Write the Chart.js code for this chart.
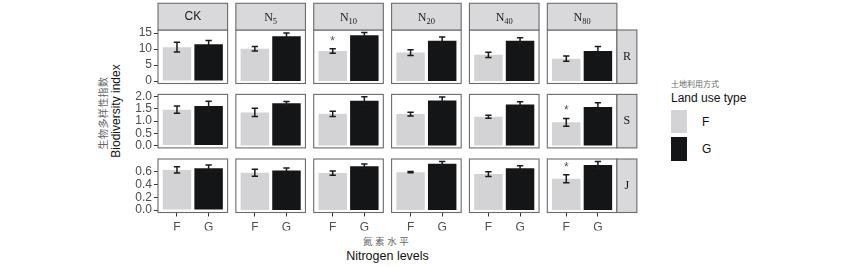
<!DOCTYPE html>
<html>
<head>
<meta charset="utf-8">
<script src="https://cdn.jsdelivr.net/npm/chart.js@4/dist/chart.umd.min.js"></script>
<style>
    body { margin: 0; background: #fff; }
    #wrap { position: relative; width: 850px; height: 267px; overflow: hidden; }
    #wrap canvas { position: absolute; left: 0; top: 0; }
    .txt { position: absolute; white-space: nowrap; line-height: 1; }
    .cn { font-family: "Noto Sans CJK SC", sans-serif; color: #666; }
    .en { font-family: "Liberation Sans", Arial, sans-serif; color: #111; }
    .key { position: absolute; width: 16px; }
</style>
</head>
<body>
<div id="wrap">
    <div class="txt cn" style="left:363px; top:237px; font-size:9.5px; letter-spacing:2.6px;">氮素水平</div>
    <div class="txt en" style="left:387.5px; top:250px; font-size:12.5px; transform:translateX(-50%);">Nitrogen levels</div>
    <div class="txt cn" style="left:103px; top:113px; font-size:10px; letter-spacing:0.4px; transform:translate(-50%,-50%) rotate(-90deg);">生物多样性指数</div>
    <div class="txt en" style="left:116px; top:111px; font-size:12px; transform:translate(-50%,-50%) rotate(-90deg);">Biodiversity index</div>

    <div class="txt cn" style="left:671px; top:80px; font-size:8px;">土地利用方式</div>
    <div class="txt en" style="left:671px; top:92px; font-size:12px;">Land use type</div>
    <div class="key" id="keyF" style="left:671px; top:110px; height:23px;"></div>
    <div class="key" id="keyG" style="left:671px; top:137px; height:24px;"></div>
    <div class="txt en" style="left:702px; top:116px; font-size:12px;">F</div>
    <div class="txt en" style="left:702px; top:143px; font-size:12px;">G</div>
</div>
<script>
// categories
const levels = ['CK', 'N5', 'N10', 'N20', 'N40', 'N80'];
const indices = ['R', 'S', 'J'];
const landUse = ['F', 'G'];

// R (richness)
const richnessF = [10.6, 10.1, 9.4, 8.9, 8.2, 7.0];
const richnessFErr = [1.5, 0.7, 0.7, 0.9, 0.8, 0.8];
const richnessG = [11.5, 14.0, 14.3, 12.6, 12.6, 9.4];
const richnessGErr = [1.2, 1.0, 0.9, 1.2, 0.9, 1.4];
const richnessStars = ['', '', '*', '', '', ''];
const richnessTicks = [0, 5, 10, 15];

// S (shannon)
const shannonF = [1.47, 1.36, 1.30, 1.29, 1.18, 0.95];
const shannonFErr = [0.15, 0.17, 0.11, 0.08, 0.06, 0.16];
const shannonG = [1.62, 1.74, 1.84, 1.85, 1.68, 1.58];
const shannonGErr = [0.20, 0.07, 0.16, 0.14, 0.12, 0.18];
const shannonStars = ['', '', '', '', '', '*'];
const shannonTicks = [0, 0.5, 1.0, 1.5, 2.0];

// J (evenness)
const evennessF = [0.630, 0.585, 0.580, 0.595, 0.565, 0.490];
const evennessFErr = [0.050, 0.055, 0.033, 0.010, 0.038, 0.063];
const evennessG = [0.656, 0.620, 0.687, 0.727, 0.656, 0.707];
const evennessGErr = [0.050, 0.040, 0.035, 0.036, 0.040, 0.056];
const evennessStars = ['', '', '', '', '', '*'];
const evennessTicks = [0, 0.2, 0.4, 0.6];

const colorF = '#d3d3d5';
const colorG = '#141517';
const stripFill = '#d9d9dc';
const borderColor = '#6b6b6b';
const tickColor = '#4d4d4d';

document.getElementById('keyF').style.background = colorF;
document.getElementById('keyG').style.background = colorG;

const rows = [
    { f: richnessF, fe: richnessFErr, g: richnessG, ge: richnessGErr, stars: richnessStars, ticks: richnessTicks, dec: 0 },
    { f: shannonF, fe: shannonFErr, g: shannonG, ge: shannonGErr, stars: shannonStars, ticks: shannonTicks, dec: 1 },
    { f: evennessF, fe: evennessFErr, g: evennessG, ge: evennessGErr, stars: evennessStars, ticks: evennessTicks, dec: 1 }
];

// panel geometry (px)
const W = 850, H = 267;
const colX0 = 158, colStep = 77.86, colW = 69.6;
const rowY = [30, 94.4, 159];
const rowH = 53.5;
const stripTop = 3.3;
const sideStripW = 20;
const yAxisW = 36, xAxisH = 18;

// error bars, stars, panel border, strips
const facetPlugin = {
    id: 'facet',
    afterDatasetsDraw(chart) {
        const ctx = chart.ctx;
        const xs = chart.scales.x, ys = chart.scales.y;
        ctx.save();
        ctx.strokeStyle = '#1a1a1a';
        ctx.lineWidth = 1.5;
        chart.data.datasets.forEach(ds => {
            ds.data.forEach(p => {
                const x = xs.getPixelForValue(p.x);
                const cap = xs.getPixelForValue(p.x + 0.1) - x;
                const top = ys.getPixelForValue(p.y + p.err);
                const bot = ys.getPixelForValue(p.y - p.err);
                ctx.beginPath();
                ctx.moveTo(x, top); ctx.lineTo(x, bot);
                ctx.moveTo(x - cap, top); ctx.lineTo(x + cap, top);
                ctx.moveTo(x - cap, bot); ctx.lineTo(x + cap, bot);
                ctx.stroke();
                if (p.star) {
                    ctx.fillStyle = '#555';
                    ctx.font = '12px "Liberation Sans", Arial, sans-serif';
                    ctx.textAlign = 'center';
                    ctx.textBaseline = 'alphabetic';
                    ctx.fillText(p.star, x, top - 4);
                }
            });
        });
        ctx.restore();
    },
    afterDraw(chart) {
        const ctx = chart.ctx;
        const a = chart.chartArea;
        const meta = chart.options.plugins.facet;
        ctx.save();
        ctx.lineWidth = 1.1;
        ctx.strokeStyle = borderColor;
        ctx.strokeRect(a.left, a.top, a.right - a.left, a.bottom - a.top);
        ctx.fillStyle = '#1a1a1a';
        ctx.textAlign = 'center';
        ctx.textBaseline = 'middle';
        if (meta.top) {
            const h = a.top - stripTop;
            ctx.fillStyle = stripFill;
            ctx.fillRect(a.left, stripTop, a.right - a.left, h);
            ctx.strokeRect(a.left, stripTop, a.right - a.left, h);
            ctx.fillStyle = '#1a1a1a';
            const cx = (a.left + a.right) / 2, cy = stripTop + h / 2;
            const lab = meta.top;
            if (lab === 'CK') {
                ctx.font = '12px "Liberation Sans", Arial, sans-serif';
                ctx.fillText(lab, cx, cy + 0.5);
            } else {
                const sub = lab.slice(1);
                ctx.font = '12px "Liberation Serif", serif';
                const wN = ctx.measureText('N').width;
                ctx.font = '8.5px "Liberation Serif", serif';
                const wS = ctx.measureText(sub).width;
                const x0 = cx - (wN + wS) / 2;
                ctx.textAlign = 'left';
                ctx.textBaseline = 'alphabetic';
                ctx.font = '12px "Liberation Serif", serif';
                ctx.fillText('N', x0, cy + 4.5);
                ctx.font = '8.5px "Liberation Serif", serif';
                ctx.fillText(sub, x0 + wN, cy + 7);
                ctx.textAlign = 'center';
                ctx.textBaseline = 'middle';
            }
        }
        if (meta.side) {
            ctx.fillStyle = stripFill;
            ctx.fillRect(a.right, a.top, sideStripW, a.bottom - a.top);
            ctx.strokeRect(a.right, a.top, sideStripW, a.bottom - a.top);
            ctx.fillStyle = '#1a1a1a';
            ctx.font = '12px "Liberation Serif", serif';
            ctx.fillText(meta.side, a.right + sideStripW / 2, (a.top + a.bottom) / 2);
        }
        ctx.restore();
    }
};

const wrap = document.getElementById('wrap');

rows.forEach((row, r) => {
    const maxTop = Math.max(...row.f.map((v, i) => v + row.fe[i]), ...row.g.map((v, i) => v + row.ge[i]));
    const yMin = -0.05 * maxTop;
    const yMax = maxTop * 1.05;
    levels.forEach((lvl, c) => {
        const canvas = document.createElement('canvas');
        canvas.width = W; canvas.height = H;
        wrap.appendChild(canvas);
        const px = colX0 + c * colStep;
        const py = rowY[r];
        const showY = c === 0;
        const showX = r === rows.length - 1;
        const barOpts = { grouped: false, barPercentage: 0.9, categoryPercentage: 1, borderWidth: 0 };
        new Chart(canvas, {
            type: 'bar',
            data: {
                datasets: [
                    Object.assign({ label: landUse[0], data: [{ x: 1, y: row.f[c], err: row.fe[c], star: row.stars[c] }], backgroundColor: colorF }, barOpts),
                    Object.assign({ label: landUse[1], data: [{ x: 2, y: row.g[c], err: row.ge[c], star: '' }], backgroundColor: colorG }, barOpts)
                ]
            },
            options: {
                responsive: false,
                animation: false,
                devicePixelRatio: 1,
                layout: {
                    padding: {
                        left: px - (showY ? yAxisW : 0),
                        right: W - (px + colW),
                        top: py,
                        bottom: H - (py + rowH) - (showX ? xAxisH : 0)
                    }
                },
                scales: {
                    x: {
                        type: 'linear',
                        min: 0.4,
                        max: 2.6,
                        offset: false,
                        display: showX,
                        border: { display: false },
                        grid: { offset: false, drawOnChartArea: false, tickLength: 4, color: '#333' },
                        afterBuildTicks: s => { s.ticks = [{ value: 1 }, { value: 2 }]; },
                        afterFit: s => { s.height = showX ? xAxisH : 0; },
                        ticks: {
                            autoSkip: false,
                            maxRotation: 0,
                            padding: 4,
                            color: tickColor,
                            font: { family: '"Liberation Sans", Arial, sans-serif', size: 12 },
                            callback: v => landUse[v - 1]
                        }
                    },
                    y: {
                        type: 'linear',
                        min: yMin,
                        max: yMax,
                        display: showY,
                        border: { display: false },
                        grid: { drawOnChartArea: false, tickLength: 4, color: '#333' },
                        afterBuildTicks: s => { s.ticks = row.ticks.map(v => ({ value: v })); },
                        afterFit: s => { s.width = showY ? yAxisW : 0; },
                        ticks: {
                            autoSkip: false,
                            padding: 2,
                            color: tickColor,
                            font: { family: '"Liberation Sans", Arial, sans-serif', size: 12 },
                            callback: v => v.toFixed(row.dec)
                        }
                    }
                },
                plugins: {
                    legend: { display: false },
                    tooltip: { enabled: false },
                    facet: {
                        top: r === 0 ? lvl : '',
                        side: c === levels.length - 1 ? indices[r] : ''
                    }
                }
            },
            plugins: [facetPlugin]
        });
    });
});
</script>
</body>
</html>
